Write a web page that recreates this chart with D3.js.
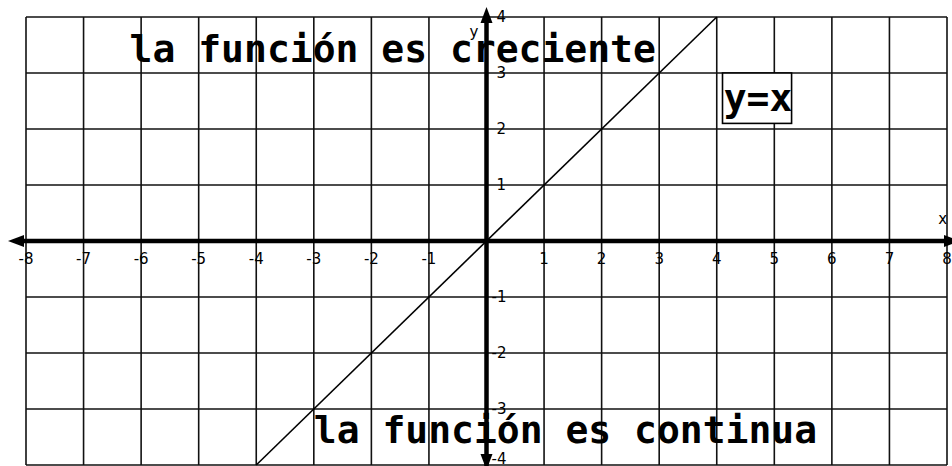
<html>
<head>
<script src="https://d3js.org/d3.v7.min.js"></script>
<style>
  body { margin: 0; background: #fff; }
  .grid { stroke: #111; stroke-width: 1.6px; }
  .axisline { stroke: #000; stroke-width: 4.5px; }
  .fn { stroke: #000; stroke-width: 1.6px; fill: none; }
  .tick { font-family: "DejaVu Sans", sans-serif; font-size: 15px; fill: #000; }
  .big { font-family: "DejaVu Sans Mono", monospace; font-weight: bold; font-size: 38px; fill: #000; }
</style>
</head>
<body>
<div id="chart"></div>
<script>
// grid / tick values
var xTicks = [-8, -7, -6, -5, -4, -3, -2, -1, 1, 2, 3, 4, 5, 6, 7, 8];
var yTicks = [-4, -3, -2, -1, 1, 2, 3, 4];
var xGrid = [-8, -7, -6, -5, -4, -3, -2, -1, 0, 1, 2, 3, 4, 5, 6, 7, 8];
var yGrid = [-4, -3, -2, -1, 0, 1, 2, 3, 4];
// y = x drawn from -4 to 4
var lineX = [-4, 4];
var lineY = [-4, 4];
var titles = ["la función es creciente", "la función es continua"];
var titleX = [-6.2, -3.0];
var titleY = [3.2, -3.6];
var eqLabel = "y=x";

var width = 952, height = 466;

var x = d3.scaleLinear().domain([-8, 8]).range([26, 947]);
var y = d3.scaleLinear().domain([-4, 4]).range([465, 17]);

var svg = d3.select("#chart")
    .append("svg")
    .attr("width", width)
    .attr("height", height);

// grid
svg.selectAll(".vgrid")
    .data(xGrid)
    .enter()
    .append("line")
    .attr("class", "grid")
    .attr("x1", d => x(d)).attr("x2", d => x(d))
    .attr("y1", y(4)).attr("y2", y(-4));

svg.selectAll(".hgrid")
    .data(yGrid)
    .enter()
    .append("line")
    .attr("class", "grid")
    .attr("x1", x(-8)).attr("x2", x(8))
    .attr("y1", d => y(d)).attr("y2", d => y(d));

// the function
svg.append("path")
    .attr("class", "fn")
    .attr("d", d3.line()(lineX.map((v, i) => [x(v), y(lineY[i])])));

// axes (thick with arrows)
svg.append("line")
    .attr("class", "axisline")
    .attr("x1", x(-8.1)).attr("x2", x(8.2))
    .attr("y1", y(0)).attr("y2", y(0));
svg.append("line")
    .attr("class", "axisline")
    .attr("x1", x(0)).attr("x2", x(0))
    .attr("y1", y(3.9)).attr("y2", y(-4.1));

function arrow(tx, ty, dx, dy) { // tip, direction
    var L = 16, W = 6;
    var px = -dy, py = dx;
    var bx = tx - dx * L, by = ty - dy * L;
    return "M" + tx + "," + ty +
        "L" + (bx + px * W) + "," + (by + py * W) +
        "L" + (bx - px * W) + "," + (by - py * W) + "Z";
}
svg.append("path").attr("d", arrow(8, y(0), -1, 0)).attr("fill", "#000");
svg.append("path").attr("d", arrow(960, y(0), 1, 0)).attr("fill", "#000");
svg.append("path").attr("d", arrow(x(0), 7, 0, -1)).attr("fill", "#000");
svg.append("path").attr("d", arrow(x(0), 470, 0, 1)).attr("fill", "#000");

// tick labels
svg.selectAll(".xt")
    .data(xTicks)
    .enter()
    .append("text")
    .attr("class", "tick")
    .attr("x", d => x(d))
    .attr("y", y(0) + 23)
    .attr("text-anchor", "middle")
    .text(d => d < 0 ? "-" + Math.abs(d) : d);

svg.selectAll(".yt")
    .data(yTicks)
    .enter()
    .append("text")
    .attr("class", "tick")
    .attr("x", d => d < 0 ? x(0) + 5 : x(0) + 10)
    .attr("y", d => d === -4 ? y(d) - 1 : y(d) + 5)
    .text(d => d < 0 ? "-" + Math.abs(d) : d);

svg.append("text").attr("class", "tick")
    .attr("x", x(0) - 17).attr("y", y(3.65))
    .text("y");
svg.append("text").attr("class", "tick")
    .attr("x", x(7.85)).attr("y", y(0.3))
    .text("x");

// big statements
svg.selectAll(".big")
    .data(titles)
    .enter()
    .append("text")
    .attr("class", "big")
    .attr("x", (d, i) => x(titleX[i]))
    .attr("y", (d, i) => y(titleY[i]))
    .text(d => d);

// y=x boxed label
svg.append("rect")
    .attr("x", x(4.1)).attr("y", y(3))
    .attr("width", x(5.3) - x(4.1)).attr("height", y(2.1) - y(3))
    .attr("fill", "#fff").attr("stroke", "#000").attr("stroke-width", 1.6);
svg.append("text")
    .attr("class", "big")
    .attr("x", x(4.12)).attr("y", y(2.33))
    .text(eqLabel);
</script>
</body>
</html>
